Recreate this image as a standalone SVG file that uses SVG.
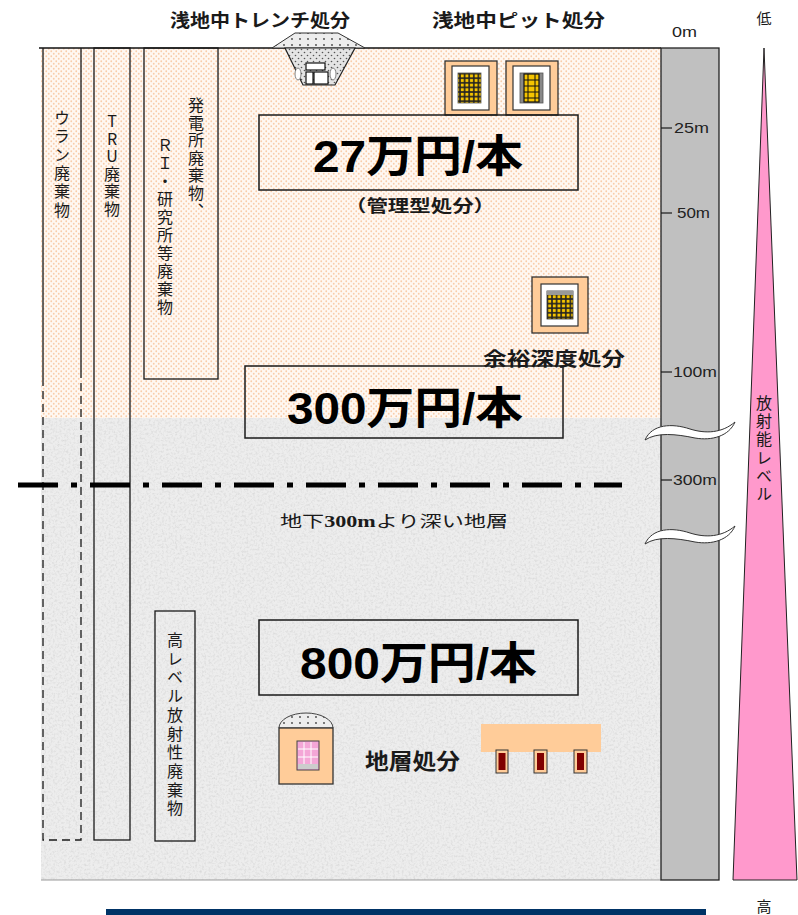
<svg xmlns="http://www.w3.org/2000/svg" width="798" height="915" viewBox="0 0 798 915">
  <style>
    .jp { font-family: "Noto Sans CJK JP", "Noto Sans", sans-serif; fill: #1a1a1a; }
    .big { font-family: "Liberation Sans", "Noto Sans CJK JP", sans-serif; font-weight: bold; font-size: 44px; fill: #000; }
    .ttl { font-family: "Noto Sans CJK JP", sans-serif; font-weight: bold; fill: #1a1a1a; }
    .vert { font-family: "Noto Sans CJK JP", sans-serif; font-size: 16px; fill: #1a1a1a; writing-mode: vertical-rl; text-orientation: upright; }
    .depth { font-family: "Liberation Sans", "Noto Sans", sans-serif; font-size: 14px; fill: #222; }
    .box { fill: none; stroke: #1a1a1a; stroke-width: 1.5; }
    .col { fill: none; stroke: #1a1a1a; stroke-width: 1.3; }
    .tick { stroke: #1a1a1a; stroke-width: 1.2; }
    .pit { fill: #FFCC99; stroke: #333; stroke-width: 1.3; }
    .pitin { fill: #fff; stroke: #333; stroke-width: 1.2; }
  </style>
  <defs>
    <pattern id="sand" width="5" height="5" patternUnits="userSpaceOnUse">
      <rect width="5" height="5" fill="#FFF8F2"/>
      <circle cx="1.25" cy="1.25" r="0.9" fill="#F9CDAA"/>
      <circle cx="3.75" cy="3.75" r="0.9" fill="#F9CDAA"/>
    </pattern>
    <pattern id="gravel" width="6" height="6" patternUnits="userSpaceOnUse">
      <rect width="6" height="6" fill="#E4E4E4"/>
      <circle cx="1.5" cy="1.5" r="0.8" fill="#555"/>
      <circle cx="4.5" cy="4.5" r="0.8" fill="#555"/>
    </pattern>
    <pattern id="mound" width="8" height="6" patternUnits="userSpaceOnUse">
      <rect width="8" height="6" fill="#EDEDED"/>
      <circle cx="4" cy="3" r="0.9" fill="#444"/>
    </pattern>
    <pattern id="yellowdots" width="4.6" height="4.6" patternUnits="userSpaceOnUse">
      <rect width="4.6" height="4.6" fill="#222"/>
      <rect x="0.8" y="0.8" width="3" height="3" fill="#F5C400"/>
    </pattern>
    <filter id="grain" x="0" y="0" width="100%" height="100%">
      <feTurbulence type="fractalNoise" baseFrequency="0.45" numOctaves="3" seed="7"/>
      <feColorMatrix type="matrix" values="0 0 0 0 0.5  0 0 0 0 0.5  0 0 0 0 0.5  0 0 0 1.6 -0.7"/>
      <feComposite in2="SourceGraphic" operator="in"/>
    </filter>
  </defs>

  <rect width="798" height="915" fill="#fff"/>

  <!-- ground layers -->
  <g id="ground">
    <rect x="41" y="48" width="620" height="370" fill="url(#sand)"/>
    <rect x="41" y="418" width="620" height="462" fill="#EDEDED"/>
    <rect x="41" y="418" width="620" height="462" fill="#000" filter="url(#grain)" opacity="0.5"/>
    <line x1="41" y1="880" x2="661" y2="880" stroke="#999" stroke-width="1"/>
    <line x1="39" y1="48" x2="661" y2="48" stroke="#111" stroke-width="1.6"/>
  </g>

  <!-- waste category columns -->
  <g id="col-uranium">
    <path class="col" d="M43,48 V378 M81,48 V378"/>
    <path class="col" stroke-dasharray="8 5" d="M43,378 V840 H81 V378"/>
    <text class="vert" x="62" y="110" letter-spacing="2.3">ウラン廃棄物</text>
  </g>
  <g id="col-tru">
    <rect class="col" x="94" y="48" width="36" height="792"/>
    <text class="vert" x="112" y="113" letter-spacing="1.6">TRU廃棄物</text>
  </g>
  <g id="col-plant">
    <rect class="col" x="144" y="48" width="74" height="331"/>
    <text class="vert" x="196" y="97" letter-spacing="1.6">発電所廃棄物、</text>
    <text class="vert" x="165" y="137" letter-spacing="2">ＲＩ・研究所等廃棄物</text>
  </g>
  <g id="col-hlw">
    <rect class="col" x="155" y="611" width="40" height="230"/>
    <text class="vert" x="175" y="632" letter-spacing="2.7">高レベル放射性廃棄物</text>
  </g>

  <!-- 300 m boundary -->
  <g id="boundary">
    <line x1="18" y1="485" x2="622" y2="485" stroke="#000" stroke-width="5" stroke-dasharray="40 13 6 13"/>
    <text class="jp" x="280" y="527" font-size="16" textLength="228" lengthAdjust="spacingAndGlyphs">地下<tspan font-family="Liberation Serif, serif" font-weight="bold">300m</tspan>より深い地層</text>
  </g>

  <!-- trench disposal -->
  <g id="trench">
    <text class="ttl" x="170" y="27" font-size="18" textLength="180" lengthAdjust="spacingAndGlyphs">浅地中トレンチ処分</text>
    <polygon points="272,48 295,33 338,33 365,48" fill="url(#mound)" stroke="#333" stroke-width="1"/>
    <polygon points="285,48 355,48 335,85 303,85" fill="url(#gravel)" stroke="#222" stroke-width="1.2"/>
    <ellipse cx="298" cy="74" rx="3" ry="6" fill="#fff" stroke="#666" stroke-width="0.8"/>
    <ellipse cx="333" cy="74" rx="3" ry="6" fill="#fff" stroke="#666" stroke-width="0.8"/>
    <rect x="306" y="63" width="19" height="7" fill="#fff" stroke="#111" stroke-width="1.2"/>
    <rect x="306" y="72" width="7" height="12" fill="#fff" stroke="#111" stroke-width="1.2"/>
    <rect x="314" y="72" width="14" height="12" fill="#fff" stroke="#111" stroke-width="1.2"/>
  </g>

  <!-- pit disposal -->
  <g id="pit">
    <text class="ttl" x="432" y="27" font-size="18" textLength="173" lengthAdjust="spacingAndGlyphs">浅地中ピット処分</text>
    <rect class="pit" x="445" y="61" width="52" height="54"/>
    <rect class="pitin" x="452" y="66" width="37" height="44"/>
    <rect x="458" y="73" width="23" height="30" fill="url(#yellowdots)" stroke="#555" stroke-width="0.8"/>
    <rect class="pit" x="506" y="61" width="52" height="54"/>
    <rect class="pitin" x="513" y="66" width="37" height="44"/>
    <rect x="520" y="73" width="23" height="30" fill="#888" stroke="#555" stroke-width="0.8"/>
    <rect x="524" y="74" width="15" height="28" fill="#F5C400" stroke="#111" stroke-width="1.2"/>
    <path d="M524,80 H539 M524,86 H539 M524,92 H539 M524,98 H539 M528,74 V102 M535,74 V102" stroke="#111" stroke-width="1"/>
  </g>

  <!-- cost: controlled disposal -->
  <g id="cost-27">
    <rect class="box" x="259" y="115" width="319" height="75" fill="#FFF8F2"/>
    <text class="big" x="313" y="172" textLength="210" lengthAdjust="spacingAndGlyphs">27万円/本</text>
    <text class="ttl" x="345" y="212" font-size="17" textLength="150" lengthAdjust="spacingAndGlyphs">（管理型処分）</text>
  </g>

  <!-- intermediate depth disposal -->
  <g id="intermediate">
    <rect class="pit" x="532" y="277" width="56" height="56"/>
    <rect class="pitin" x="541" y="284" width="37" height="42"/>
    <rect x="547" y="291" width="26" height="28" fill="url(#yellowdots)" stroke="#333" stroke-width="0.8"/>
    <rect x="547" y="291" width="26" height="4" fill="#999"/>
  </g>
  <g id="cost-300">
    <rect class="box" x="245" y="366" width="318" height="72" fill="#FFF8F2"/>
    <text class="big" x="287" y="424" textLength="236" lengthAdjust="spacingAndGlyphs">300万円/本</text>
  </g>
  <text class="ttl" x="483" y="366" font-size="19" textLength="142" lengthAdjust="spacingAndGlyphs">余裕深度処分</text>

  <!-- geological disposal -->
  <g id="cost-800">
    <rect class="box" x="259" y="620" width="319" height="75" fill="#F4F4F4"/>
    <text class="big" x="300" y="679" textLength="237" lengthAdjust="spacingAndGlyphs">800万円/本</text>
  </g>
  <g id="geological">
    <path d="M279,728 A27,15 0 0 1 333,728 Z" fill="url(#mound)" stroke="#444" stroke-width="1"/>
    <rect class="pit" x="279" y="728" width="54" height="56"/>
    <rect x="297" y="741" width="22" height="29" fill="#F4A6D7" stroke="#444" stroke-width="1"/>
    <path d="M304,742 V764 M311,742 V764 M298,749 H318 M298,757 H318" stroke="#fff" stroke-width="1"/>
    <rect x="298" y="764" width="20" height="5" fill="#ccc"/>
    <text class="ttl" x="365" y="769" font-size="22" textLength="95" lengthAdjust="spacingAndGlyphs">地層処分</text>
    <rect x="481" y="724" width="120" height="28" fill="#FFCC99"/>
    <rect x="496" y="750" width="12" height="23" fill="#FFCC99" stroke="#333" stroke-width="1"/>
    <rect x="498.5" y="753" width="7" height="17" fill="#800000"/>
    <rect x="534" y="750" width="13" height="23" fill="#FFCC99" stroke="#333" stroke-width="1"/>
    <rect x="537" y="753" width="7" height="17" fill="#800000"/>
    <rect x="574" y="750" width="13" height="23" fill="#FFCC99" stroke="#333" stroke-width="1"/>
    <rect x="577" y="753" width="7" height="17" fill="#800000"/>
  </g>

  <!-- depth scale -->
  <g id="depth-scale">
    <rect x="661" y="48" width="58" height="832" fill="#C0C0C0" stroke="#222" stroke-width="1.3"/>
    <text class="depth" x="672" y="37" textLength="25" lengthAdjust="spacingAndGlyphs">0m</text>
    <line class="tick" x1="661" y1="128" x2="672" y2="128"/>
    <text class="depth" x="674" y="133" textLength="35" lengthAdjust="spacingAndGlyphs">25m</text>
    <line class="tick" x1="661" y1="213" x2="672" y2="213"/>
    <text class="depth" x="677" y="218" textLength="33" lengthAdjust="spacingAndGlyphs">50m</text>
    <line class="tick" x1="661" y1="372" x2="672" y2="372"/>
    <text class="depth" x="673" y="377" textLength="44" lengthAdjust="spacingAndGlyphs">100m</text>
    <line class="tick" x1="661" y1="480" x2="672" y2="480"/>
    <text class="depth" x="673" y="485" textLength="44" lengthAdjust="spacingAndGlyphs">300m</text>
    <path d="M645,440 C652,424 672,423 690,429 C706,434 722,433 735,422 C729,436 712,441 695,438 C676,434 657,432 645,440 Z" fill="#fff" stroke="#333" stroke-width="1"/>
    <path d="M645,544 C652,528 672,527 690,533 C706,538 722,537 735,526 C729,540 712,545 695,542 C676,538 657,536 645,544 Z" fill="#fff" stroke="#333" stroke-width="1"/>
  </g>

  <!-- radioactivity level -->
  <g id="radioactivity">
    <polygon points="764,48 797,880 733,880" fill="#FF99CC" stroke="#222" stroke-width="1"/>
    <text class="vert" x="764" y="395" letter-spacing="2.2">放射能レベル</text>
    <text class="jp" x="764" y="24" font-size="15" text-anchor="middle">低</text>
    <text class="jp" x="764" y="912" font-size="15" text-anchor="middle">高</text>
  </g>

  <rect x="106" y="909" width="600" height="6" fill="#003366"/>
</svg>
